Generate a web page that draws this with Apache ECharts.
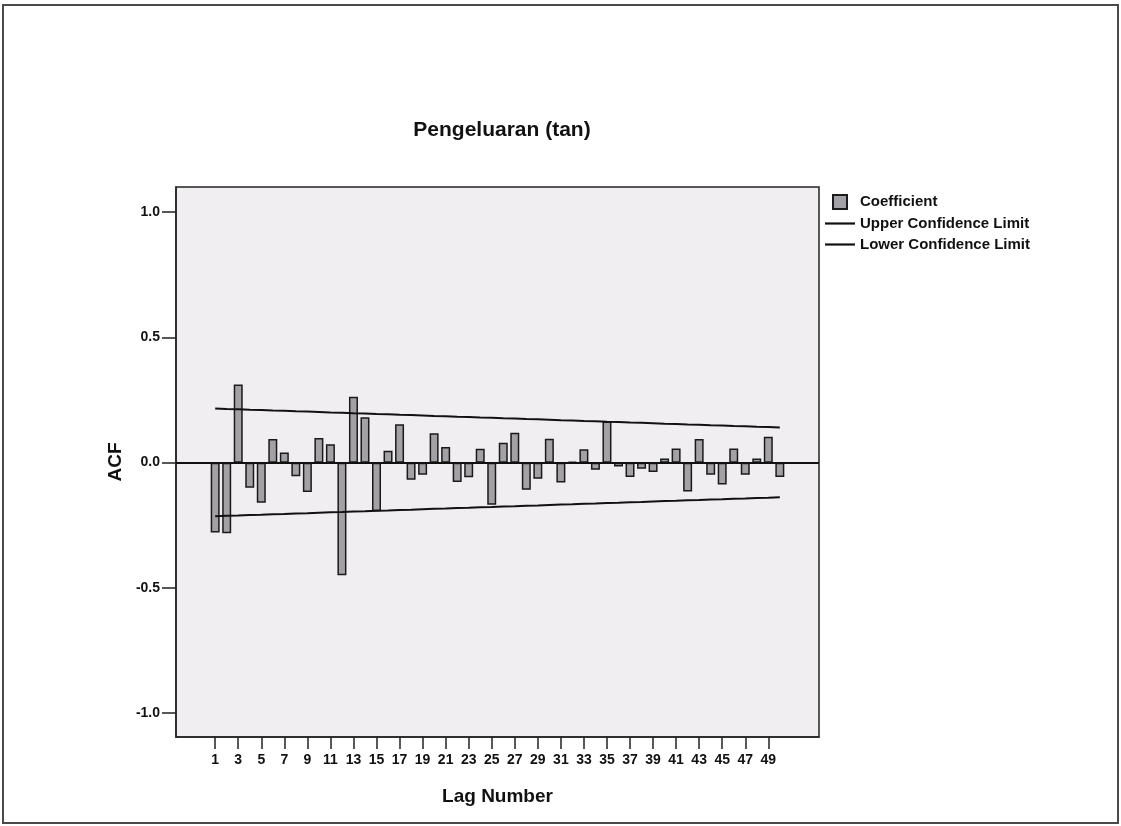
<!DOCTYPE html>
<html>
<head>
<meta charset="utf-8">
<script src="https://cdn.jsdelivr.net/npm/echarts@6/dist/echarts.min.js"></script>
<style>
html,body{margin:0;padding:0;background:#fff;}
#chart{width:1121px;height:826px;}
</style>
</head>
<body>
<div id="chart"></div>
<script>
// Lags 1..50
const lags = [1,2,3,4,5,6,7,8,9,10,11,12,13,14,15,16,17,18,19,20,21,22,23,24,25,26,27,28,29,30,31,32,33,34,35,36,37,38,39,40,41,42,43,44,45,46,47,48,49,50];
// ACF coefficients
const coefficient = [-0.279,-0.282,0.312,-0.100,-0.160,0.094,0.040,-0.054,-0.117,0.098,0.073,-0.449,0.263,0.181,-0.194,0.047,0.153,-0.068,-0.048,0.117,0.062,-0.077,-0.058,0.055,-0.168,0.079,0.119,-0.108,-0.064,0.095,-0.079,0.004,0.053,-0.028,0.164,-0.015,-0.057,-0.024,-0.037,0.016,0.056,-0.115,0.094,-0.048,-0.087,0.056,-0.048,0.016,0.103,-0.057];
// Confidence limits
const upperLimit = [0.216,0.214,0.213,0.211,0.210,0.208,0.207,0.205,0.204,0.202,0.200,0.199,0.197,0.196,0.194,0.193,0.191,0.190,0.188,0.186,0.185,0.183,0.182,0.180,0.179,0.177,0.176,0.174,0.173,0.171,0.169,0.168,0.166,0.165,0.163,0.162,0.160,0.159,0.157,0.155,0.154,0.152,0.151,0.149,0.148,0.146,0.145,0.143,0.142,0.140];
const lowerLimit = [-0.214,-0.212,-0.211,-0.209,-0.208,-0.206,-0.205,-0.203,-0.202,-0.200,-0.198,-0.197,-0.195,-0.194,-0.192,-0.191,-0.189,-0.188,-0.186,-0.184,-0.183,-0.181,-0.180,-0.178,-0.177,-0.175,-0.174,-0.172,-0.171,-0.169,-0.167,-0.166,-0.164,-0.163,-0.161,-0.160,-0.158,-0.157,-0.155,-0.153,-0.152,-0.150,-0.149,-0.147,-0.146,-0.144,-0.143,-0.141,-0.140,-0.138];
const xTickLabels = [1,3,5,7,9,11,13,15,17,19,21,23,25,27,29,31,33,35,37,39,41,43,45,47,49];
const yTickLabels = [-1.0,-0.5,0.0,0.5,1.0];

const chart = echarts.init(document.getElementById('chart'), null, {renderer:'canvas'});
const font = 'Liberation Sans, Arial, sans-serif';
const pair = (arr) => lags.map((l,i)=>[l, arr[i]]);
const lineIcon = 'path://M0,0L30,0L30,2.2L0,2.2Z';

chart.setOption({
  backgroundColor:'#ffffff',
  animation:false,
  textStyle:{fontFamily:font},
  graphic:[{
    type:'rect', silent:true, z:-1,
    shape:{x:3,y:5,width:1115,height:818},
    style:{fill:'none', stroke:'#4a4a4a', lineWidth:2}
  }],
  title:{
    text:'Pengeluaran (tan)',
    left:497, top:115, textAlign:'center',
    textStyle:{fontFamily:font, fontSize:21, fontWeight:'bold', color:'#111'}
  },
  legend:{
    orient:'vertical', left:820, top:189,
    itemWidth:30, itemHeight:14, itemGap:6,
    symbolKeepAspect:true,
    textStyle:{fontFamily:font, fontSize:15, fontWeight:'bold', color:'#111'},
    data:[
      {name:'Coefficient', icon:'path://M0,0L10,0L10,10L0,10Z'},
      {name:'Upper Confidence Limit', icon:lineIcon},
      {name:'Lower Confidence Limit', icon:lineIcon}
    ]
  },
  grid:{
    left:176, right:302, top:187, bottom:89,
    show:true, backgroundColor:'#f1eef1', borderColor:'#222', borderWidth:1.5
  },
  xAxis:{
    type:'value', min:-2.4, max:53.4,
    name:'Lag Number', nameLocation:'middle', nameGap:50,
    nameTextStyle:{fontFamily:font, fontSize:19, fontWeight:'bold', color:'#111'},
    axisLine:{show:true, onZero:false, lineStyle:{color:'#222', width:1.5}},
    axisTick:{show:true, length:12, customValues:xTickLabels, lineStyle:{color:'#222', width:1.5}},
    axisLabel:{customValues:xTickLabels, margin:16, fontFamily:font, fontSize:14, fontWeight:'bold', color:'#111'},
    splitLine:{show:false}
  },
  yAxis:{
    type:'value', min:-1.095, max:1.10,
    name:'ACF', nameLocation:'middle', nameGap:46,
    nameTextStyle:{fontFamily:font, fontSize:19, fontWeight:'bold', color:'#111'},
    axisLine:{show:true, onZero:false, lineStyle:{color:'#222', width:1.5}},
    axisTick:{show:true, length:14, customValues:yTickLabels, lineStyle:{color:'#222', width:1.5}},
    axisLabel:{customValues:yTickLabels, margin:16, fontFamily:font, fontSize:14, fontWeight:'bold', color:'#111',
      formatter:(v)=>Number(v).toFixed(1)},
    splitLine:{show:false}
  },
  series:[
    {
      name:'Coefficient', type:'bar', barWidth:9,
      data:pair(coefficient),
      itemStyle:{color:'#a3a1a5', borderColor:'#1a1a1a', borderWidth:1.5},
      markLine:{
        silent:true, symbol:['none','none'], label:{show:false},
        lineStyle:{color:'#111', width:2, type:'solid'},
        data:[{yAxis:0}]
      },
      z:3
    },
    {
      name:'Upper Confidence Limit', type:'line', symbol:'none',
      data:pair(upperLimit),
      lineStyle:{color:'#111', width:2}, itemStyle:{color:'#111'}, z:4
    },
    {
      name:'Lower Confidence Limit', type:'line', symbol:'none',
      data:pair(lowerLimit),
      lineStyle:{color:'#111', width:2}, itemStyle:{color:'#111'}, z:4
    }
  ]
});
</script>
</body>
</html>
